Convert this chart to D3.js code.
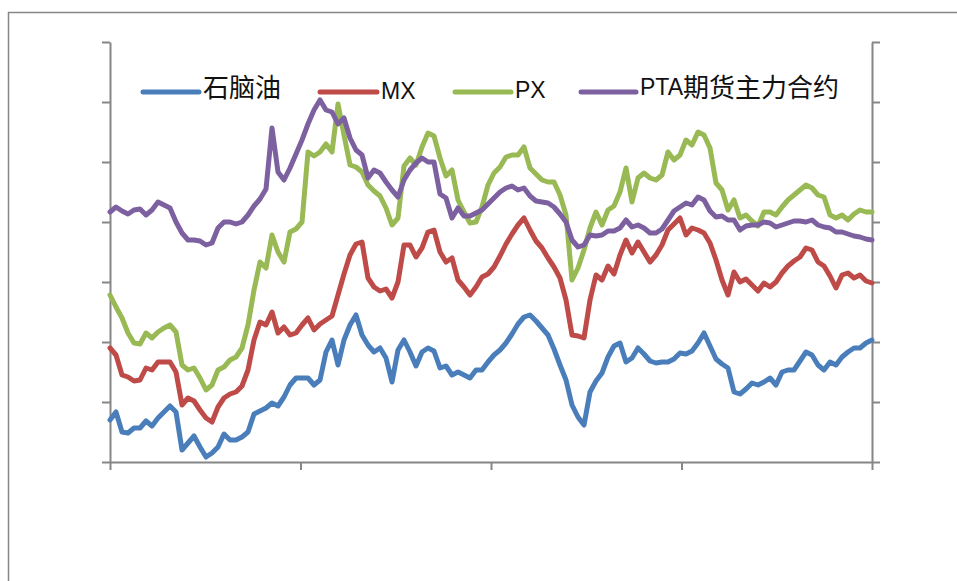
<!DOCTYPE html>
<html><head><meta charset="utf-8">
<script src="https://cdn.jsdelivr.net/npm/d3@7/dist/d3.min.js"></script>
<style>body{margin:0;background:#fff}</style>
</head><body>
<svg id="c" width="957" height="581"></svg>
<script>
// ---- data (index units, no value labels shown on the original chart) ----
const seriesNames = ["石脑油", "MX", "PX", "PTA期货主力合约"];
const naphtha = [42,50,30,29,34,34,41,36,44,50,56,50,12,19,26,15,5,9,15,28,22,22,25,30,48,51,54,59,56,65,77,84,84,84,77,82,110,122,97,122,137,147,127,117,110,114,104,80,112,122,110,96,110,114,111,94,96,87,90,87,84,92,92,100,107,112,119,128,138,145,147,141,134,127,113,97,82,57,45,37,70,81,89,105,116,119,100,104,114,108,101,99,100,100,103,109,108,111,119,129,116,103,98,94,70,68,73,79,77,80,84,77,90,92,92,101,110,107,97,92,100,97,105,110,114,114,119,122];
const mx = [114,107,87,85,81,82,94,92,100,100,100,90,57,64,61,52,44,40,55,64,68,70,76,92,122,140,137,150,129,135,127,129,137,144,132,138,142,146,167,188,207,218,220,184,175,171,173,164,180,217,217,205,214,230,232,210,200,204,182,175,167,175,185,188,195,206,218,228,237,244,232,221,214,204,195,184,162,127,126,124,162,187,182,196,188,207,222,209,220,210,200,207,217,232,238,244,227,234,232,229,219,202,182,167,190,180,183,177,171,179,175,180,189,196,201,205,214,212,200,196,186,174,187,189,184,187,181,179];
const px = [167,155,144,129,119,118,129,124,130,134,137,130,97,92,94,84,72,77,92,95,102,105,114,137,172,200,194,227,210,200,230,233,240,310,306,310,318,310,358,327,297,295,290,277,271,266,254,237,244,296,304,297,315,329,326,304,286,292,262,250,239,240,255,277,289,295,305,307,307,315,294,288,282,280,280,267,247,182,194,212,234,250,237,252,256,270,294,260,284,289,284,282,287,310,302,307,322,317,330,327,314,279,272,252,262,244,247,241,236,250,250,247,255,262,267,272,277,274,267,265,247,244,247,242,248,252,250,250];
const pta = [250,255,251,248,252,253,247,252,260,257,254,240,229,222,222,221,217,219,234,240,240,238,240,247,256,263,273,334,290,282,294,308,322,338,352,362,352,350,338,344,324,312,307,284,292,289,280,272,265,282,292,299,304,300,300,268,264,244,254,246,246,249,252,258,264,270,274,276,272,274,266,261,260,259,255,248,240,222,215,217,227,226,227,231,231,234,242,235,237,234,229,229,233,242,251,255,259,257,265,262,251,245,246,242,242,232,236,237,237,240,239,235,237,239,241,241,240,242,237,235,234,230,230,228,226,225,223,222];
const yTicks = [0, 60, 120, 180, 240, 300, 360, 420];
const xTicks = [0, 31.75, 63.5, 95.25, 127];

const allSeries = [naphtha, mx, px, pta];
const colors = ["#4A7EBB", "#BE4B48", "#98B954", "#7D60A0"];

const svg = d3.select("#c");
const plot = {left: 110, right: 872, top: 42, bottom: 462};

// outer chart frame
svg.append("rect").attr("x", 8.5).attr("y", 12.5).attr("width", 1100).attr("height", 1100)
  .attr("fill", "#fff").attr("stroke", "#868686").attr("stroke-width", 1.5);

const x = d3.scaleLinear().domain([0, naphtha.length - 1]).range([plot.left, plot.right]);
const y = d3.scaleLinear().domain([0, 420]).range([plot.bottom, plot.top]);

const axisColor = "#868686";
function styleAxis(g) {
  g.selectAll("path.domain").attr("stroke", axisColor).attr("stroke-width", 2);
  g.selectAll(".tick line").attr("stroke", axisColor).attr("stroke-width", 2);
  g.selectAll(".tick text").remove();
}

svg.append("g").attr("transform", `translate(${plot.left},0)`)
  .call(d3.axisLeft(y).tickValues(yTicks).tickSizeOuter(0).tickSizeInner(8).tickFormat(""))
  .call(styleAxis);
svg.append("g").attr("transform", `translate(${plot.right},0)`)
  .call(d3.axisRight(y).tickValues(yTicks).tickSizeOuter(0).tickSizeInner(8).tickFormat(""))
  .call(styleAxis);
svg.append("g").attr("transform", `translate(0,${plot.bottom})`)
  .call(d3.axisBottom(x).tickValues(xTicks).tickSizeOuter(0).tickSizeInner(8).tickFormat(""))
  .call(styleAxis);

const line = d3.line().x((d, i) => x(i)).y(d => y(d));
allSeries.forEach((s, k) => {
  svg.append("path").datum(s).attr("d", line)
    .attr("fill", "none").attr("stroke", colors[k]).attr("stroke-width", 5)
    .attr("stroke-linejoin", "round").attr("stroke-linecap", "round");
});

// legend
const legendItems = [
  {x1: 143, x2: 199, tx: 203, ty: 97},
  {x1: 320, x2: 377, tx: 381, ty: 99},
  {x1: 455, x2: 511, tx: 515, ty: 98},
  {x1: 581, x2: 636, tx: 640, ty: 95}
];
legendItems.forEach((it, k) => {
  svg.append("line").attr("x1", it.x1).attr("x2", it.x2).attr("y1", 92).attr("y2", 92)
    .attr("stroke", colors[k]).attr("stroke-width", 5).attr("stroke-linecap", "round");
  const t = svg.append("text").attr("x", it.tx).attr("y", it.ty).attr("fill", "#111");
  const name = seriesNames[k];
  const parts = name.match(/[A-Za-z0-9]+|[^A-Za-z0-9]+/g);
  parts.forEach(p => {
    const latin = /^[A-Za-z0-9]+$/.test(p);
    t.append("tspan").text(p)
      .attr("font-family", latin ? "'Liberation Sans', Arial, sans-serif" : "'Noto Sans CJK SC', sans-serif")
      .attr("font-size", latin ? 23 : 26)
      .attr("dy", (!latin && k === 3) ? 2 : 0);
  });
});
</script>
</body></html>
